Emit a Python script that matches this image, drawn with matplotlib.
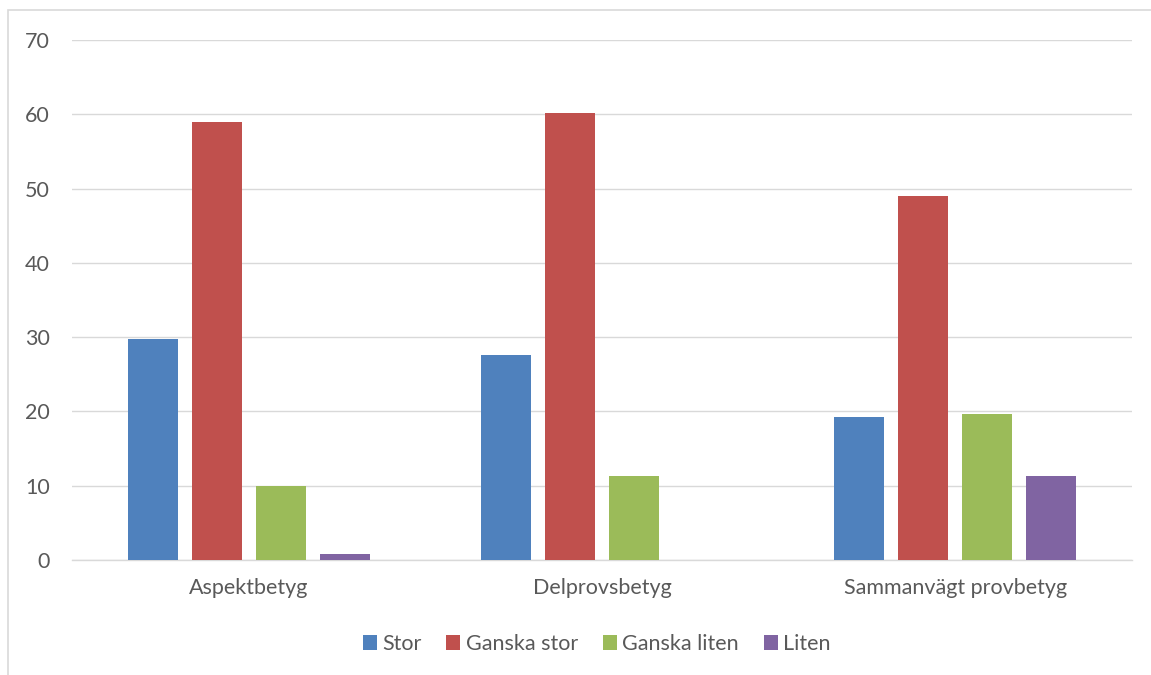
import matplotlib.pyplot as plt
import numpy as np
from matplotlib.patches import Rectangle

categories = ["Aspektbetyg", "Delprovsbetyg", "Sammanvägt provbetyg"]
series = ["Stor", "Ganska stor", "Ganska liten", "Liten"]
stor = [29.7, 27.6, 19.2]
ganska_stor = [59.0, 60.2, 49.0]
ganska_liten = [10.0, 11.3, 19.7]
liten = [0.8, 0.0, 11.3]
colors = ["#4F81BD", "#C0504D", "#9BBB59", "#8064A2"]

plt.rcParams['font.family'] = ['Lato', 'DejaVu Sans']

fig = plt.figure(figsize=(11.51, 6.75), dpi=100)
ax = fig.add_axes([0.0626, 0.1704, 0.9209, 0.7703])

# chart frame
fig.patches.append(Rectangle((8 / 1151, -0.1), 1.2, 1.1 - 10 / 675, transform=fig.transFigure,
                             fill=False, edgecolor="#d9d9d9", linewidth=1.2))

x = np.arange(len(categories))
width = 0.1416
step = 0.181
for i, (name, vals) in enumerate(zip(series, [stor, ganska_stor, ganska_liten, liten])):
    ax.bar(x + (i - 1.5) * step, vals, width, color=colors[i], label=name, zorder=3)

ax.set_xlim(-0.5, 2.5)
ax.set_ylim(0, 70)
ax.set_yticks(range(0, 71, 10))
ax.grid(axis="y", color="#d9d9d9", linewidth=1, zorder=0)
for s in ["top", "right", "left"]:
    ax.spines[s].set_visible(False)
ax.spines["bottom"].set_color("#d9d9d9")
ax.spines["bottom"].set_linewidth(1)
ax.set_xticks(x)
ax.set_xticklabels(categories)
ax.tick_params(axis="both", length=0, labelsize=15.5, colors="#595959")
ax.tick_params(axis="y", pad=16)
ax.tick_params(axis="x", pad=13)

ax.legend(loc="center", bbox_to_anchor=(0.495, -0.162), ncol=4, frameon=False,
          fontsize=15.5, labelcolor="#595959", handlelength=0.65, handleheight=0.65,
          handletextpad=0.25, columnspacing=1.15)

fig.savefig("out.png", dpi=100)
